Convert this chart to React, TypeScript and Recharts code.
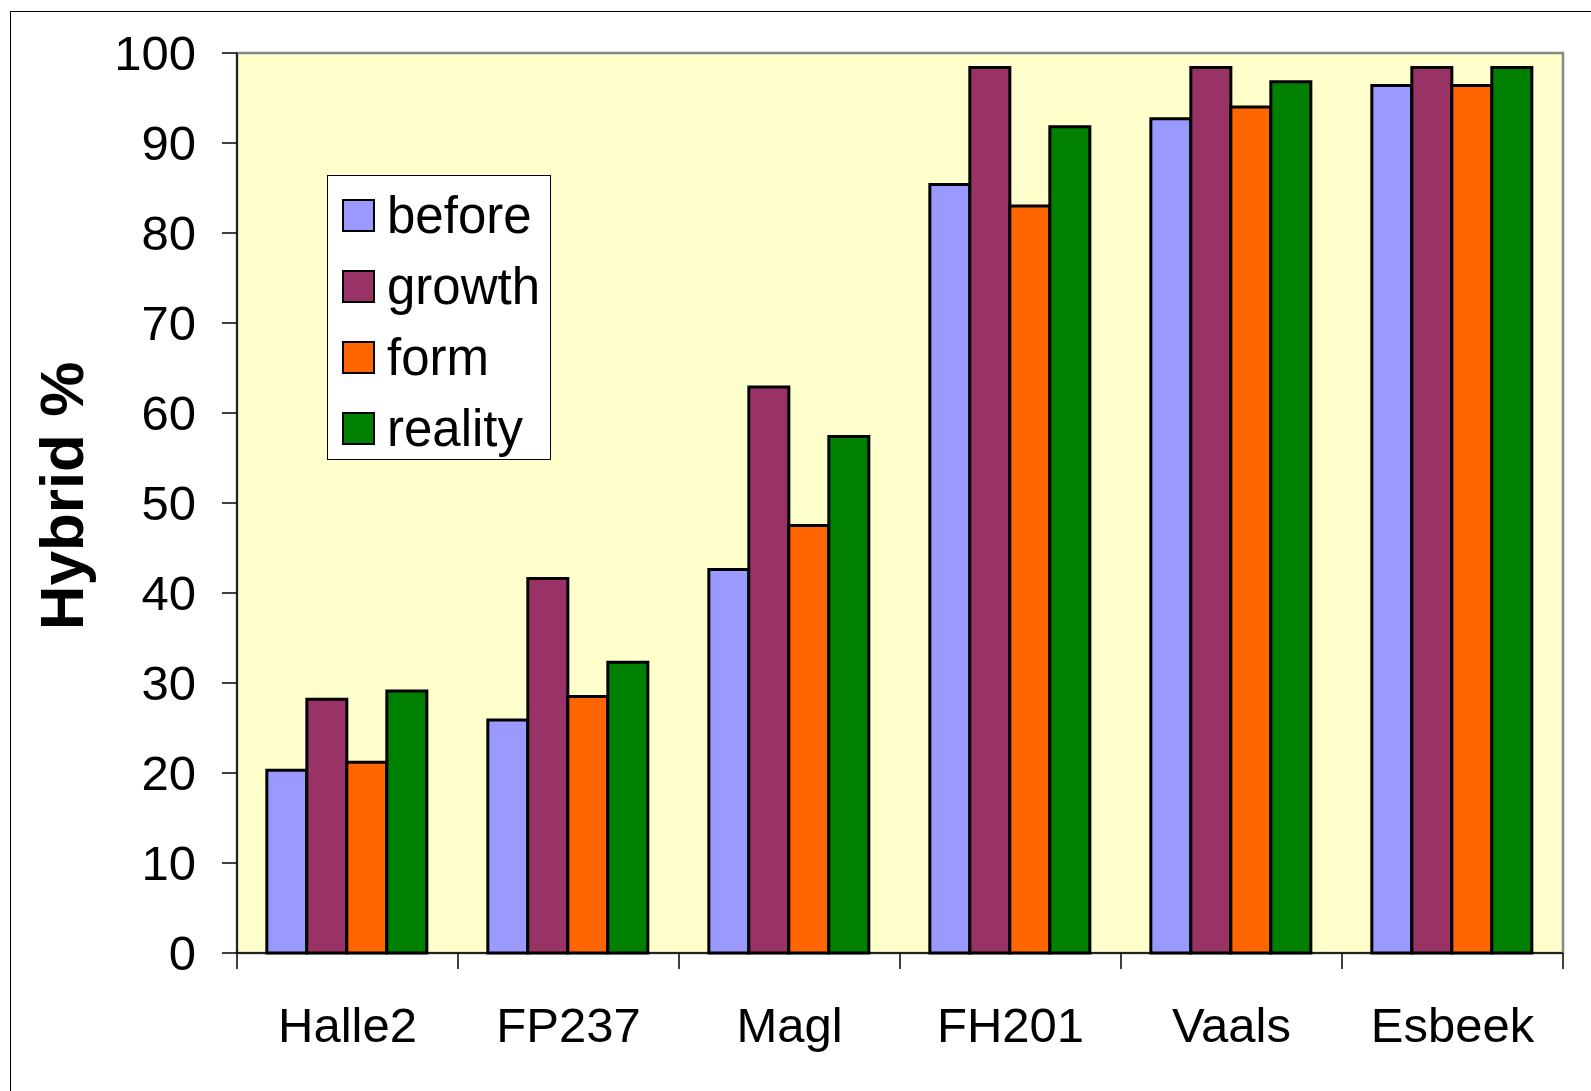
import { Bar, BarChart, Legend, ReferenceArea, XAxis, YAxis } from 'recharts';

const sites = ['Halle2', 'FP237', 'Magl', 'FH201', 'Vaals', 'Esbeek'];
const before = [20.3, 25.9, 42.6, 85.4, 92.7, 96.4];
const growth = [28.2, 41.6, 62.9, 98.4, 98.4, 98.4];
const form = [21.2, 28.5, 47.5, 83.0, 94.0, 96.4];
const reality = [29.1, 32.3, 57.4, 91.8, 96.8, 98.4];
const yTicks = [0, 10, 20, 30, 40, 50, 60, 70, 80, 90, 100];

const series = [
    { key: 'before', color: '#9999FF' },
    { key: 'growth', color: '#993366' },
    { key: 'form', color: '#FF6600' },
    { key: 'reality', color: '#008000' },
];

const data = sites.map((name, i) => ({
    name,
    before: before[i],
    growth: growth[i],
    form: form[i],
    reality: reality[i],
}));

const FONT = '"Liberation Sans", Arial, sans-serif';

function renderLegend() {
    return (
        <div
            style={{
                width: 224,
                height: 285,
                boxSizing: 'border-box',
                border: '1.5px solid #000',
                background: '#fff',
                paddingTop: 4,
                fontFamily: FONT,
            }}
        >
            {series.map((s) => (
                <div key={s.key} style={{ height: 71, display: 'flex', alignItems: 'center' }}>
                    <div
                        style={{
                            width: 33,
                            height: 33,
                            boxSizing: 'border-box',
                            border: '2px solid #000',
                            background: s.color,
                            marginLeft: 14,
                        }}
                    />
                    <span style={{ fontSize: 51, lineHeight: 1, color: '#000', marginLeft: 12 }}>{s.key}</span>
                </div>
            ))}
        </div>
    );
}

// category label plus the tick marks at the category boundaries
function SiteTick(props: any) {
    const { x, y, payload, index, visibleTicksCount, width } = props;
    const half = payload && payload.offset ? payload.offset : width / (2 * visibleTicksCount);
    const last = index === visibleTicksCount - 1;
    return (
        <g>
            <line x1={x - half} y1={y} x2={x - half} y2={y + 16} stroke='#000' strokeWidth={1.5} />
            {last && <line x1={x + half} y1={y} x2={x + half} y2={y + 16} stroke='#000' strokeWidth={1.5} />}
            <text x={x} y={y + 54} dy='0.71em' textAnchor='middle' fontSize={49} fontFamily={FONT} fill='#000'>
                {payload.value}
            </text>
        </g>
    );
}

function YLabel(props: any) {
    const { x, y, height } = props.viewBox;
    const cx = x + 46;
    const cy = y + height / 2 - 7;
    return (
        <text
            x={cx}
            y={cy}
            transform={`rotate(-90 ${cx} ${cy})`}
            textAnchor='middle'
            fontSize={62}
            fontWeight='bold'
            fontFamily={FONT}
            fill='#000'
        >
            Hybrid %
        </text>
    );
}

export default function App() {
    return (
        <div style={{ position: 'absolute', left: 0, top: 0, width: 1591, height: 1091, background: '#fff' }}>
            <div
                style={{
                    position: 'absolute',
                    left: 10,
                    top: 11,
                    width: 1581,
                    height: 1080,
                    boxSizing: 'border-box',
                    borderLeft: '1.5px solid #000',
                    borderTop: '1.5px solid #000',
                }}
            />
            <div style={{ position: 'absolute', left: 0, top: 0 }}>
                <BarChart
                    width={1591}
                    height={1091}
                    data={data}
                    margin={{ top: 53, right: 28, left: 37, bottom: 22 }}
                    barGap={0}
                    barCategoryGap={'13.5%'}
                    style={{ fontFamily: FONT }}
                >
                    <ReferenceArea
                        y1={0}
                        y2={100}
                        fill='#FFFFCC'
                        fillOpacity={1}
                        stroke='#888888'
                        strokeWidth={2.5}
                    />
                    <XAxis
                        dataKey='name'
                        axisLine={{ stroke: '#000', strokeWidth: 1.5 }}
                        tickLine={false}
                        tickSize={0}
                        tickMargin={0}
                        height={116}
                        interval={0}
                        tick={<SiteTick />}
                    />
                    <YAxis
                        domain={[0, 100]}
                        ticks={yTicks}
                        interval={0}
                        width={200}
                        tickSize={15}
                        tickMargin={26}
                        axisLine={{ stroke: '#000', strokeWidth: 1.5 }}
                        tickLine={{ stroke: '#000', strokeWidth: 1.5 }}
                        tick={{ fill: '#000', fontSize: 49, fontFamily: FONT }}
                        label={<YLabel />}
                    />
                    <Legend
                        layout='vertical'
                        align='center'
                        verticalAlign='middle'
                        content={renderLegend}
                        wrapperStyle={{ left: 327, top: 175, width: 224, height: 285 }}
                    />
                    {series.map((s) => (
                        <Bar
                            key={s.key}
                            dataKey={s.key}
                            name={s.key}
                            fill={s.color}
                            stroke='#000'
                            strokeWidth={3}
                            isAnimationActive={false}
                        />
                    ))}
                </BarChart>
            </div>
        </div>
    );
}
